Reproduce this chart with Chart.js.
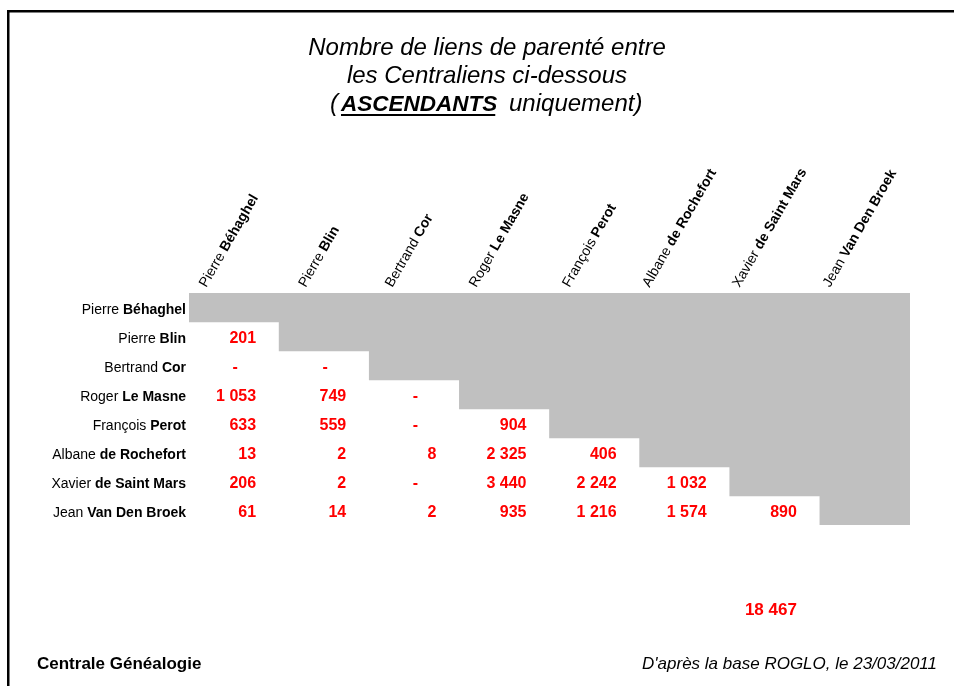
<!DOCTYPE html>
<html><head><meta charset="utf-8">
<script src="https://cdn.jsdelivr.net/npm/chart.js@4.4.1/dist/chart.umd.min.js"></script>
<style>html,body{margin:0;padding:0;background:#fff}#wrap{width:954px;height:686px;position:relative}</style>
</head><body><div id="wrap"><canvas id="c"></canvas></div>
<script>
// ---- data ----
const firstNames = ["Pierre", "Pierre", "Bertrand", "Roger", "François", "Albane", "Xavier", "Jean"];
const lastNames = ["Béhaghel", "Blin", "Cor", "Le Masne", "Perot", "de Rochefort", "de Saint Mars", "Van Den Broek"];
// links with each previous person (0 shown as "-")
const linksBehaghel = [];
const linksBlin = [201];
const linksCor = [0, 0];
const linksLeMasne = [1053, 749, 0];
const linksPerot = [633, 559, 0, 904];
const linksRochefort = [13, 2, 8, 2325, 406];
const linksSaintMars = [206, 2, 0, 3440, 2242, 1032];
const linksVanDenBroek = [61, 14, 2, 935, 1216, 1574, 890];
const totalLinks = 18467;
const titleLines = ["Nombre de liens de parenté entre", "les Centraliens ci-dessous"];
const titleEmph = "ASCENDANTS";
const titleTail = "uniquement)";
const footerLeft = "Centrale Généalogie";
const footerRight = "D'après la base ROGLO, le 23/03/2011";

const cellRows = [linksBehaghel, linksBlin, linksCor, linksLeMasne, linksPerot, linksRochefort, linksSaintMars, linksVanDenBroek];
const nCols = firstNames.length;
const grayRanges = firstNames.map((_, i) => [i, nCols]);

const FF = '"Liberation Sans", Arial, sans-serif';
function fmt(v) { return String(v).replace(/\B(?=(\d{3})+(?!\d))/g, ' '); }

const tablePlugin = {
  id: 'tablePlugin',
  afterDraw(chart) {
    const ctx = chart.ctx, xs = chart.scales.x, ys = chart.scales.y, ca = chart.chartArea;
    ctx.save();
    // border
    ctx.fillStyle = '#000';
    ctx.fillRect(7, 10, 2.5, 676);
    ctx.fillRect(7, 10, 947, 2.5);

    // title
    ctx.fillStyle = '#000';
    ctx.textBaseline = 'alphabetic';
    ctx.textAlign = 'center';
    ctx.font = 'italic 24px ' + FF;
    const tcx = 487;
    ctx.fillText(titleLines[0], tcx, 55);
    ctx.fillText(titleLines[1], tcx, 83);
    // third line: "( ASCENDANTS  uniquement)"
    ctx.textAlign = 'left';
    ctx.font = 'italic 24px ' + FF;
    ctx.fillText('(', 330, 111);
    ctx.font = 'italic bold 22.5px ' + FF;
    const ew = ctx.measureText(titleEmph).width;
    ctx.fillText(titleEmph, 341, 111);
    ctx.fillRect(341, 114, ew - 2, 2);
    ctx.font = 'italic 24px ' + FF;
    ctx.fillText(titleTail, 509, 111);

    // column headers (rotated)
    const hf = 14;
    for (let j = 0; j < nCols; j++) {
      ctx.font = hf + 'px ' + FF;
      const w1 = ctx.measureText(firstNames[j] + ' ').width;
      ctx.font = 'bold ' + hf + 'px ' + FF;
      const w2 = ctx.measureText(lastNames[j]).width;
      const w = w1 + w2, a = hf * 0.72;
      const cx = xs.getPixelForValue(j + 0.5);
      const ox = cx - (0.5 * w - 0.866 * a) / 2 - 6;
      const oy = ca.top - 5;
      ctx.save();
      ctx.translate(ox, oy);
      ctx.rotate(-Math.PI / 3);
      ctx.textAlign = 'left';
      ctx.textBaseline = 'alphabetic';
      ctx.font = hf + 'px ' + FF;
      ctx.fillText(firstNames[j] + ' ', 0, 0);
      ctx.font = 'bold ' + hf + 'px ' + FF;
      ctx.fillText(lastNames[j], w1, 0);
      ctx.restore();
    }

    // row labels
    ctx.textBaseline = 'middle';
    ctx.textAlign = 'right';
    for (let i = 0; i < nCols; i++) {
      const y = ys.getPixelForValue(i) + 3;
      const rx = ca.left - 3;
      ctx.font = 'bold 14px ' + FF;
      const w2 = ctx.measureText(lastNames[i]).width;
      ctx.fillText(lastNames[i], rx, y);
      ctx.font = '14px ' + FF;
      ctx.fillText(firstNames[i] + ' ', rx - w2, y);
    }

    // cell values
    ctx.fillStyle = '#FF0000';
    ctx.font = 'bold 16px ' + FF;
    cellRows.forEach((row, i) => {
      const y = ys.getPixelForValue(i) + 2.5;
      row.forEach((v, j) => {
        const right = xs.getPixelForValue(j + 1);
        if (v === 0) {
          ctx.textAlign = 'center';
          ctx.fillText('-', right - 44, y);
        } else {
          ctx.textAlign = 'right';
          ctx.fillText(fmt(v), right - 23, y);
        }
      });
    });

    // total
    ctx.font = 'bold 17px ' + FF;
    ctx.textAlign = 'right';
    ctx.fillText(fmt(totalLinks), xs.getPixelForValue(7) - 23, ca.bottom + 85);

    // footer
    ctx.fillStyle = '#000';
    ctx.textBaseline = 'alphabetic';
    ctx.textAlign = 'left';
    ctx.font = 'bold 17px ' + FF;
    ctx.fillText(footerLeft, 37, 669);
    ctx.textAlign = 'right';
    ctx.font = 'italic 17px ' + FF;
    ctx.fillText(footerRight, 937, 669);
    ctx.restore();
  }
};

new Chart(document.getElementById('c'), {
  type: 'bar',
  data: {
    labels: lastNames,
    datasets: [{
      data: grayRanges,
      backgroundColor: '#C0C0C0',
      borderWidth: 0,
      barPercentage: 1,
      categoryPercentage: 1
    }]
  },
  options: {
    indexAxis: 'y',
    responsive: true,
    maintainAspectRatio: false,
    animation: false,
    layout: { padding: { left: 189, right: 44, top: 293, bottom: 161 } },
    scales: {
      x: { type: 'linear', min: 0, max: nCols, display: false },
      y: { display: false }
    },
    plugins: { legend: { display: false }, tooltip: { enabled: false } },
    events: []
  },
  plugins: [tablePlugin]
});
</script>
</body></html>
